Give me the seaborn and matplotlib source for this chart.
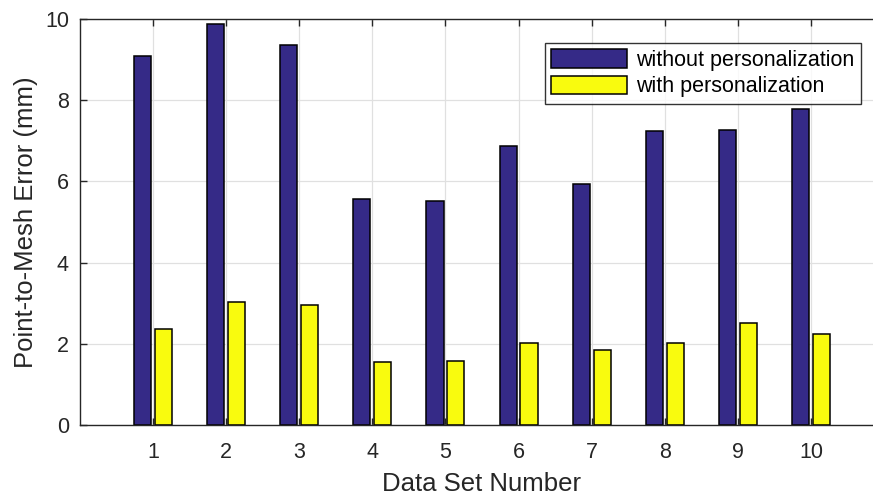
import matplotlib
matplotlib.use("Agg")
import matplotlib.pyplot as plt
import seaborn as sns
import pandas as pd
import numpy as np

data_sets = [1, 2, 3, 4, 5, 6, 7, 8, 9, 10]
without_personalization = [9.10, 9.87, 9.36, 5.56, 5.52, 6.87, 5.93, 7.24, 7.27, 7.79]
with_personalization = [2.37, 3.04, 2.96, 1.54, 1.57, 2.03, 1.85, 2.02, 2.52, 2.23]
series_names = ["without personalization", "with personalization"]
colors = ["#352A87", "#F9FB0E"]

df = pd.DataFrame({
    "set": data_sets * 2,
    "error": without_personalization + with_personalization,
    "series": [series_names[0]] * len(data_sets) + [series_names[1]] * len(data_sets),
})

sns.set_theme(style="white")
plt.rcParams["font.family"] = ["Liberation Sans", "DejaVu Sans"]
text_color = "#262626"

fig = plt.figure(figsize=(8.73, 4.96), dpi=100)
ax = fig.add_axes([80 / 873, 71 / 496, 804 / 873, 406 / 496])

sns.barplot(data=df, x="set", y="error", hue="series", hue_order=series_names,
            palette=colors, native_scale=True, width=0.57, gap=0.18,
            edgecolor="black", linewidth=1.1, saturation=1, ax=ax, zorder=3)

ax.set_xlim(0, 11)
ax.set_ylim(0, 10)
ax.set_xticks(data_sets)
ax.set_xticklabels([str(d) for d in data_sets])
ax.set_yticks([0, 2, 4, 6, 8, 10])
ax.grid(True, color="#E0E0E0", linewidth=0.9, zorder=0)
ax.set_axisbelow(True)
for s in ax.spines.values():
    s.set_visible(True)
    s.set_color(text_color)
    s.set_linewidth(1.0)
    s.set_zorder(5)
ax.tick_params(direction="in", length=5, width=1.0, color=text_color,
               labelsize=15.5, labelcolor=text_color, top=True, right=True,
               bottom=True, left=True)
ax.tick_params(axis="x", pad=12)
ax.tick_params(axis="y", pad=8)
ax.set_xlabel("Data Set Number", fontsize=18.5, color=text_color, labelpad=6.5)
ax.set_ylabel("Point-to-Mesh Error (mm)", fontsize=18.5, color=text_color, labelpad=5)

leg = ax.legend(loc="upper right", bbox_to_anchor=(781 / 804, 382 / 406),
                borderaxespad=0, fontsize=15.5, frameon=True, fancybox=False,
                handlelength=3.5, handleheight=0.92, handletextpad=0.45,
                labelspacing=0.22, borderpad=0.3, title=None)
leg.get_frame().set_edgecolor("black")
leg.get_frame().set_linewidth(1.0)
for t in leg.get_texts():
    t.set_color("black")

fig.savefig("out.png", dpi=100)
